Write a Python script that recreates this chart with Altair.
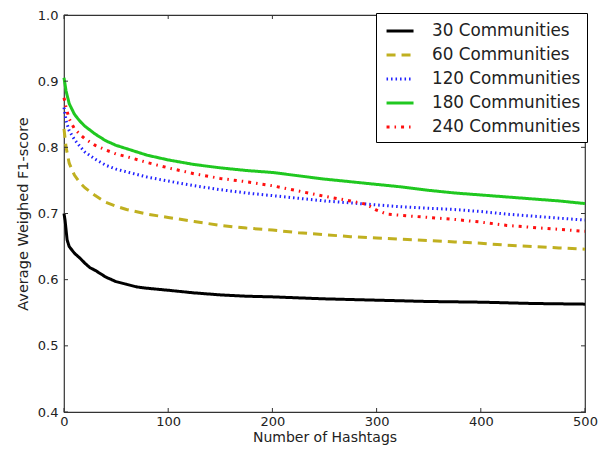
import altair as alt
import pandas as pd

series_names = ["30 Communities", "60 Communities", "120 Communities",
                "180 Communities", "240 Communities"]

x_30 = [0, 1, 3, 5, 10, 15, 20, 25, 30, 40, 50, 60, 70, 80, 100, 125, 150, 175,
        200, 250, 300, 350, 400, 450, 500]
y_30 = [0.700, 0.690, 0.660, 0.650, 0.640, 0.633, 0.625, 0.618, 0.614, 0.604,
        0.597, 0.593, 0.589, 0.587, 0.584, 0.580, 0.577, 0.575, 0.574, 0.571,
        0.569, 0.567, 0.566, 0.564, 0.563]

x_60 = [0, 2, 5, 10, 15, 20, 30, 40, 50, 60, 80, 100, 125, 150, 175, 200, 225,
        250, 275, 300, 325, 350, 375, 400, 425, 450, 475, 500]
y_60 = [0.828, 0.800, 0.776, 0.758, 0.747, 0.739, 0.727, 0.717, 0.711, 0.706,
        0.699, 0.694, 0.688, 0.682, 0.678, 0.675, 0.671, 0.668, 0.665, 0.663,
        0.661, 0.659, 0.657, 0.655, 0.652, 0.650, 0.648, 0.646]

x_120 = [0, 2, 5, 10, 15, 20, 30, 40, 50, 60, 80, 100, 125, 150, 175, 200, 225,
         250, 275, 300, 325, 350, 375, 400, 425, 450, 475, 500]
y_120 = [0.860, 0.840, 0.825, 0.812, 0.802, 0.793, 0.782, 0.773, 0.767, 0.763,
         0.755, 0.749, 0.742, 0.736, 0.731, 0.727, 0.723, 0.719, 0.716, 0.713,
         0.710, 0.708, 0.706, 0.703, 0.699, 0.696, 0.693, 0.690]

x_180 = [0, 2, 5, 10, 15, 20, 30, 40, 50, 60, 80, 100, 125, 150, 175, 200, 225,
         250, 275, 300, 325, 350, 375, 400, 425, 450, 475, 500]
y_180 = [0.905, 0.885, 0.866, 0.850, 0.840, 0.832, 0.820, 0.810, 0.803, 0.798,
         0.788, 0.781, 0.774, 0.769, 0.765, 0.762, 0.757, 0.752, 0.748, 0.744,
         0.740, 0.735, 0.731, 0.728, 0.725, 0.722, 0.719, 0.715]

x_240 = [0, 2, 5, 10, 15, 20, 30, 40, 50, 60, 80, 100, 125, 150, 175, 200, 225,
         250, 275, 290, 300, 310, 325, 350, 375, 400, 425, 450, 475, 500]
y_240 = [0.875, 0.860, 0.843, 0.828, 0.820, 0.813, 0.803, 0.796, 0.790, 0.786,
         0.777, 0.769, 0.760, 0.753, 0.748, 0.742, 0.734, 0.726, 0.719, 0.714,
         0.705, 0.699, 0.697, 0.694, 0.691, 0.687, 0.682, 0.679, 0.676, 0.673]

x_ticks = [0, 100, 200, 300, 400, 500]
y_ticks = [0.4, 0.5, 0.6, 0.7, 0.8, 0.9, 1.0]

colors = ["#000000", "#c0b020", "#2020ff", "#20c820", "#ff1010"]
dashes = [[1, 0], [9, 6], [1.5, 3], [1, 0], [3, 5, 1.5, 5]]
widths = [3, 3, 2.2, 3, 3]

rows = []
for name, xs_, ys_ in zip(series_names,
                          [x_30, x_60, x_120, x_180, x_240],
                          [y_30, y_60, y_120, y_180, y_240]):
    for xv, yv in zip(xs_, ys_):
        rows.append({"series": name, "x": xv, "y": yv})
df = pd.DataFrame(rows)

W, H = 521, 397
FONT = "DejaVu Sans"
TXT = "#222222"

xs = alt.Scale(domain=[0, 500], nice=False)
ys = alt.Scale(domain=[0.4, 1.0], nice=False)

lines = alt.Chart(df).mark_line().encode(
    x=alt.X("x:Q", scale=xs,
            axis=alt.Axis(values=x_ticks, title="Number of Hashtags",
                          ticks=False, domain=False, grid=False,
                          labelFlush=False, labelOverlap=False,
                          labelPadding=3, titlePadding=2,
                          labelFont=FONT, labelFontSize=13, labelColor=TXT,
                          titleFont=FONT, titleFontSize=14, titleColor=TXT,
                          titleFontWeight="normal")),
    y=alt.Y("y:Q", scale=ys,
            axis=alt.Axis(values=y_ticks, format=".1f",
                          title="Average Weighed F1-score",
                          ticks=False, domain=False, grid=False,
                          labelFlush=False, labelOverlap=False,
                          labelPadding=6, titlePadding=7,
                          labelFont=FONT, labelFontSize=13, labelColor=TXT,
                          titleFont=FONT, titleFontSize=14.5, titleColor=TXT,
                          titleFontWeight="normal")),
    color=alt.Color("series:N",
                    scale=alt.Scale(domain=series_names, range=colors),
                    legend=alt.Legend(title=None, orient="none",
                                      legendX=312, legendY=-2,
                                      strokeColor="#000", fillColor="#fff",
                                      padding=6, labelFontSize=16.8,
                                      labelFont=FONT, labelColor=TXT,
                                      symbolType="M-0.71,0H1.86",
                                      symbolSize=441, symbolStrokeWidth=3,
                                      labelOffset=26, rowPadding=3)),
    strokeDash=alt.StrokeDash("series:N",
                              scale=alt.Scale(domain=series_names, range=dashes),
                              legend=alt.Legend(title=None, orient="none",
                                                legendX=312, legendY=-2)),
    strokeWidth=alt.StrokeWidth("series:N",
                                scale=alt.Scale(domain=series_names, range=widths),
                                legend=None),
    detail="series:N",
    order="x:Q",
)

tx = pd.DataFrame({"t": x_ticks})
ty = pd.DataFrame({"t": y_ticks})
tick_color = "#333"
bottom_ticks = alt.Chart(tx).mark_rule(color=tick_color).encode(
    x=alt.X("t:Q", scale=xs), y=alt.value(H), y2=alt.value(H - 4))
top_ticks = alt.Chart(tx).mark_rule(color=tick_color).encode(
    x=alt.X("t:Q", scale=xs), y=alt.value(0), y2=alt.value(4))
left_ticks = alt.Chart(ty).mark_rule(color=tick_color).encode(
    y=alt.Y("t:Q", scale=ys), x=alt.value(0), x2=alt.value(4))
right_ticks = alt.Chart(ty).mark_rule(color=tick_color).encode(
    y=alt.Y("t:Q", scale=ys), x=alt.value(W), x2=alt.value(W - 4))

chart = alt.layer(lines, bottom_ticks, top_ticks, left_ticks, right_ticks).properties(
    width=W, height=H,
    autosize=alt.AutoSizeParams(type="none"),
    padding={"left": 56, "top": 7, "right": 18, "bottom": 35},
    background="#ffffff",
).configure_view(
    stroke="#333", strokeWidth=1.2
)

chart.save("out.html", embed_options={"renderer": "svg", "actions": False})
